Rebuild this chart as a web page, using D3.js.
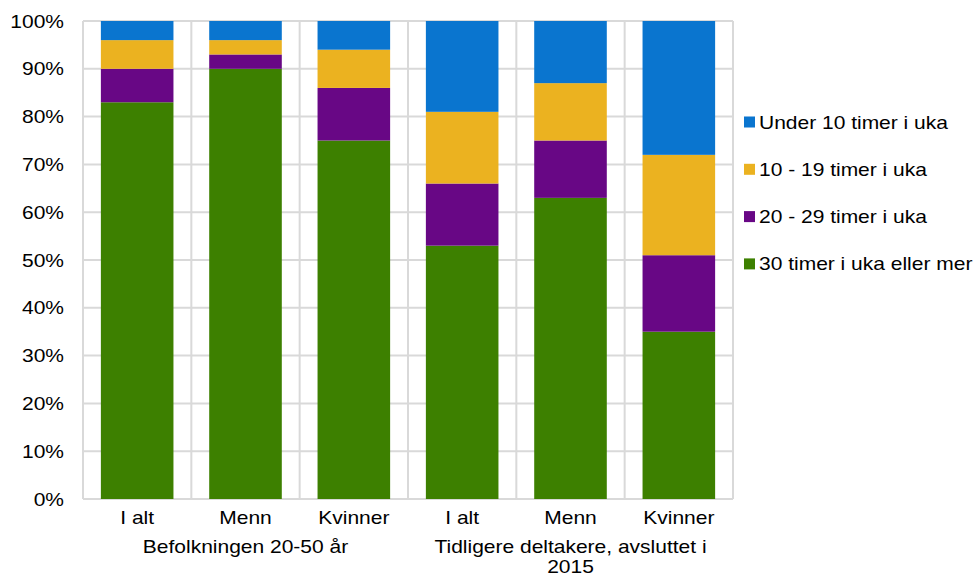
<!DOCTYPE html>
<html><head><meta charset="utf-8">
<script src="https://cdn.jsdelivr.net/npm/d3@7"></script>
<style>body{margin:0;background:#fff}svg{display:block}text{font-family:"Liberation Sans",Arial,sans-serif;fill:#000}</style>
</head><body><svg id="c" width="978" height="578"></svg>
<script>
const categories = ["I alt","Menn","Kvinner","I alt","Menn","Kvinner"];
const groups = [["Befolkningen 20-50 år"],["Tidligere deltakere, avsluttet i","2015"]];
const seriesNames = ["30 timer i uka eller mer","20 - 29 timer i uka","10 - 19 timer i uka","Under 10 timer i uka"];
const s30 = [83,90,75,53,63,35];
const s20 = [7,3,11,13,12,16];
const s10 = [6,3,8,15,12,21];
const sUnder = [4,4,6,19,13,28];
const colors = ["#3d8000","#680785","#ebb220","#0a75cf"];
const yTicks = [0,10,20,30,40,50,60,70,80,90,100];

const svg = d3.select("#c");
const L=83,R=733,T=21,B=499;
const FS=17.5, SX=1.2;
const x = d3.scaleBand().domain(d3.range(categories.length)).range([L,R]).paddingInner(0.33).paddingOuter(0.165);
const xb = d3.scaleBand().domain(d3.range(categories.length)).range([L,R]);
const y = d3.scaleLinear().domain([0,100]).range([B,T]);
const grid = "#d9d9d9";
function label(parent, px, py, txt, anchor){
  return parent.append("text").attr("transform",`translate(${px},${py}) scale(${SX},1)`)
    .attr("text-anchor",anchor).attr("font-size",FS).text(txt);
}
// grid
svg.append("g").selectAll("line").data(yTicks).join("line")
  .attr("x1",L).attr("x2",R).attr("y1",d=>y(d)).attr("y2",d=>y(d)).attr("stroke",grid).attr("stroke-width",2);
svg.append("g").selectAll("line").data(d3.range(categories.length+1)).join("line")
  .attr("x1",d=>L+d*xb.bandwidth()).attr("x2",d=>L+d*xb.bandwidth()).attr("y1",T).attr("y2",B).attr("stroke",grid).attr("stroke-width",2);
// stacked bars
const data = categories.map((c,i)=>({i, a:s30[i], b:s20[i], c:s10[i], d:sUnder[i]}));
const stack = d3.stack().keys(["a","b","c","d"])(data);
svg.append("g").selectAll("g").data(stack).join("g").attr("fill",(d,k)=>colors[k])
  .selectAll("rect").data(d=>d).join("rect")
  .attr("x",d=>x(d.data.i)).attr("width",x.bandwidth())
  .attr("y",d=>y(d[1])).attr("height",d=>y(d[0])-y(d[1]));
// y axis labels
const ya = svg.append("g");
yTicks.forEach(t=>label(ya,64,y(t)+6.5,t+"%","end"));
// category labels
const xa = svg.append("g");
categories.forEach((c,i)=>label(xa, xb(i)+xb.bandwidth()/2, 524, c, "middle"));
groups.forEach((g,gi)=>{
  const cx = L + (gi*3+1.5)*xb.bandwidth();
  g.forEach((line,li)=>label(xa, cx, 553+li*20, line, "middle"));
});
// legend
const legOrder = [3,2,1,0];
const lg = svg.append("g");
legOrder.forEach((d,i)=>{
  const cy = 122+i*47.3;
  lg.append("rect").attr("x",744).attr("y",cy-5.5).attr("width",11).attr("height",11).attr("fill",colors[d]);
  label(lg, 759, cy+6.5, seriesNames[d], "start");
});
</script></body></html>
